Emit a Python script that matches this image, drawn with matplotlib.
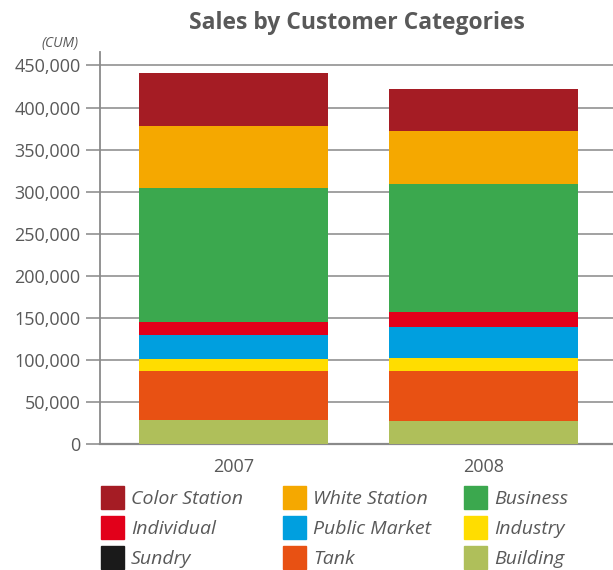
import matplotlib
matplotlib.use("Agg")
import matplotlib.pyplot as plt
import numpy as np
from matplotlib.patches import Rectangle

plt.rcParams["font.family"] = ["Open Sans", "DejaVu Sans"]

# data, stacked bottom -> top
years = ["2007", "2008"]
categories = ["Building", "Tank", "Sundry", "Industry", "Public Market",
              "Individual", "Business", "White Station", "Color Station"]
building = [28000, 27000]
tank = [58500, 59500]
sundry = [0, 0]
industry = [14500, 15500]
public_market = [28500, 37000]
individual = [15500, 18000]
business = [159500, 152500]
white_station = [74000, 63000]
color_station = [62000, 50000]
series = [building, tank, sundry, industry, public_market,
          individual, business, white_station, color_station]

colors = {
    "Color Station": "#a51c24", "White Station": "#f5a800", "Business": "#3ba84e",
    "Individual": "#e2001a", "Public Market": "#009fdf", "Industry": "#ffdd00",
    "Sundry": "#1a1a1a", "Tank": "#e85113", "Building": "#afbf5a",
}
legend_rows = [["Color Station", "White Station", "Business"],
               ["Individual", "Public Market", "Industry"],
               ["Sundry", "Tank", "Building"]]

TXT = "#595959"
GRIDC = "#9a9a9a"

W, H = 613, 570
fig = plt.figure(figsize=(W / 100, H / 100), dpi=100)
ax = fig.add_axes([100 / W, 1 - 444 / H, 513 / W, 392 / H])

x = np.arange(len(years))
bottom = np.zeros(len(years))
for name, vals in zip(categories, series):
    ax.bar(x, vals, width=0.756, bottom=bottom, color=colors[name], zorder=3, linewidth=0)
    bottom += np.array(vals)

ax.set_ylim(0, 466000)
ax.set_xlim(-0.534, 1.518)
ax.set_yticks(np.arange(0, 450001, 50000))
ax.set_yticklabels([f"{v:,}" for v in range(0, 450001, 50000)])
ax.set_xticks(x)
ax.set_xticklabels(years)
ax.yaxis.grid(True, color=GRIDC, lw=1.3, zorder=0)
ax.set_axisbelow(True)
ax.tick_params(axis="y", length=10, width=1.3, color=GRIDC, labelsize=13,
               labelcolor=TXT, pad=4)
ax.tick_params(axis="x", length=0, labelsize=13, labelcolor=TXT, pad=10)
for side in ("top", "right"):
    ax.spines[side].set_visible(False)
ax.spines["left"].set_color("#8a8a8a")
ax.spines["left"].set_linewidth(1.3)
ax.spines["bottom"].set_color("#8a8a8a")
ax.spines["bottom"].set_linewidth(1.6)

fig.text(357 / W, 1 - 23 / H, "Sales by Customer Categories", ha="center", va="center",
         fontsize=16.5, fontweight="bold", color=TXT)
fig.text(60 / W, 1 - 43 / H, "(CUM)", ha="center", va="center",
         fontsize=10, style="italic", color=TXT)

# manual legend, row-wise
col_x = [101, 283, 464]
row_y = [497, 527, 557]
for r, row in enumerate(legend_rows):
    for c, name in enumerate(row):
        fig.patches.append(Rectangle((col_x[c] / W, 1 - (row_y[r] + 11.5) / H), 23 / W, 23 / H,
                                     transform=fig.transFigure, color=colors[name]))
        fig.text((col_x[c] + 30) / W, 1 - (row_y[r] + 2) / H, name, ha="left", va="center",
                 fontsize=14, style="italic", color=TXT)

fig.savefig("out.png", dpi=100)
